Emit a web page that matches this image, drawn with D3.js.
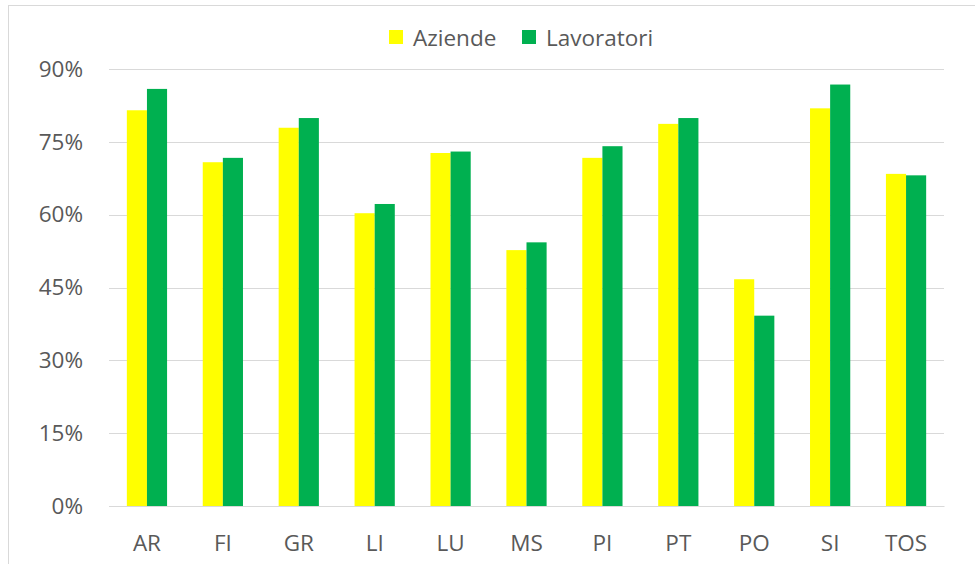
<!DOCTYPE html>
<html><head><meta charset="utf-8">
<script src="https://cdn.jsdelivr.net/npm/d3@7"></script>
<style>body{margin:0;background:#fff}svg{display:block}text{font-family:"Open Sans",sans-serif;fill:#595959}</style>
</head><body><svg id="c" width="975" height="564"></svg>
<script>
const categories = ["AR","FI","GR","LI","LU","MS","PI","PT","PO","SI","TOS"];
const aziende = [81.5,70.8,77.9,60.3,72.7,52.7,71.7,78.7,46.7,81.9,68.4];
const lavoratori = [85.9,71.7,79.9,62.2,73.0,54.3,74.1,79.9,39.2,86.8,68.1];
const seriesNames = ["Aziende","Lavoratori"];
const colors = ["#FFFF00","#00B050"];
const yTicks = [0,15,30,45,60,75,90];

const FS = 22.5;
const svg = d3.select("#c");
const m = {l:109, r:944, t:69, b:506};
svg.append("line").attr("x1",8).attr("x2",975).attr("y1",5.5).attr("y2",5.5).attr("stroke","#d9d9d9");
svg.append("line").attr("x1",8.5).attr("x2",8.5).attr("y1",5).attr("y2",564).attr("stroke","#d9d9d9");

const x = d3.scaleBand().domain(categories).range([m.l,m.r]).paddingInner(0.47).paddingOuter(0.235);
const xs = d3.scaleBand().domain(seriesNames).range([0,x.bandwidth()]);
const y = d3.scaleLinear().domain([0,90]).range([m.b,m.t]);

const g = svg.append("g");
g.selectAll("line.grid").data(yTicks).join("line").attr("class","grid")
 .attr("x1",m.l).attr("x2",m.r).attr("y1",d=>Math.round(y(d))+0.5).attr("y2",d=>Math.round(y(d))+0.5)
 .attr("stroke","#d9d9d9").attr("stroke-width",1.2);

const yAxis = d3.axisLeft(y).tickValues(yTicks).tickFormat(d=>d+"%").tickSize(0).tickPadding(26);
const ya = svg.append("g").attr("transform",`translate(${m.l},0)`).call(yAxis);
ya.select(".domain").remove();
ya.selectAll("text").attr("font-size",FS).style("font-family",'"Open Sans",sans-serif').attr("fill","#595959");

const data = categories.map((c,i)=>({c, vals:[aziende[i],lavoratori[i]]}));
const grp = svg.append("g").selectAll("g").data(data).join("g").attr("transform",d=>`translate(${x(d.c)},0)`);
grp.selectAll("rect").data(d=>d.vals.map((v,j)=>({v,s:seriesNames[j],j}))).join("rect")
 .attr("x",d=>xs(d.s)).attr("width",xs.bandwidth()).attr("y",d=>y(d.v)).attr("height",d=>y(0)-y(d.v))
 .attr("fill",d=>colors[d.j]);

const xAxis = d3.axisBottom(x).tickSize(0).tickPadding(29);
const xa = svg.append("g").attr("transform",`translate(0,${m.b})`).call(xAxis);
xa.select(".domain").attr("stroke","#d9d9d9").attr("stroke-width",1.2);
xa.selectAll("text").attr("font-size",FS).style("font-family",'"Open Sans",sans-serif').attr("fill","#595959");

const leg = svg.append("g");
const legX = [389,522];
seriesNames.forEach((s,i)=>{
  leg.append("rect").attr("x",legX[i]).attr("y",30).attr("width",14).attr("height",14).attr("fill",colors[i]);
  leg.append("text").attr("x",legX[i]+24).attr("y",45.5).attr("font-size",FS).text(s);
});
</script></body></html>
